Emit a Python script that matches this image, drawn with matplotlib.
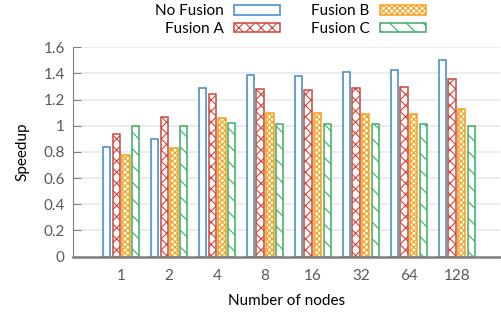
import numpy as np
import matplotlib.pyplot as plt

plt.rcParams['font.family'] = ['Lato', 'DejaVu Sans']
plt.rcParams['hatch.linewidth'] = 0.8

# ---------- data ----------
nodes = ["1", "2", "4", "8", "16", "32", "64", "128"]
no_fusion = [0.84, 0.90, 1.29, 1.39, 1.38, 1.41, 1.43, 1.50]
fusion_a = [0.94, 1.07, 1.24, 1.28, 1.27, 1.29, 1.30, 1.36]
fusion_b = [0.78, 0.83, 1.06, 1.10, 1.10, 1.09, 1.09, 1.13]
fusion_c = [1.00, 1.00, 1.02, 1.01, 1.01, 1.01, 1.01, 1.00]

series = [
    ("No Fusion", no_fusion, "#3a88c8", ""),
    ("Fusion A", fusion_a, "#d0463b", "xxx"),
    ("Fusion B", fusion_b, "#f5a11c", "xxxxxx"),
    ("Fusion C", fusion_c, "#3bae66", "\\\\"),
]

BAR_W = 0.155
STEP = 0.2

fig = plt.figure(figsize=(5.01, 3.13), dpi=100)
ax = fig.add_axes([0.146, 0.18, 0.852, 0.669])

x = np.arange(len(nodes))
for i, (label, vals, col, hatch) in enumerate(series):
    off = (i - 1.5) * STEP
    ax.bar(x + off, vals, width=BAR_W, facecolor="white", edgecolor=col,
           hatch=hatch, linewidth=1.1, label=label, zorder=3)

ax.set_xlim(-1.0, 7.9)
ax.set_ylim(0, 1.6)
ax.set_yticks(np.arange(0, 1.61, 0.2))
ax.set_yticklabels(["0", "0.2", "0.4", "0.6", "0.8", "1", "1.2", "1.4", "1.6"])
ax.set_xticks(x)
ax.set_xticklabels(nodes)
ax.tick_params(axis="x", length=0, pad=9, labelsize=11, labelcolor="#595959")
ax.tick_params(axis="y", direction="in", length=6, width=0.8, color="#808080",
               pad=6, labelsize=11, labelcolor="#595959")
ax.grid(axis="y", color="#ebebeb", linewidth=1.3, zorder=0)

for s in ["top", "right"]:
    ax.spines[s].set_visible(False)
ax.spines["left"].set_color("#808080")
ax.spines["left"].set_linewidth(0.8)
ax.spines["bottom"].set_color("#7f7f7f")
ax.spines["bottom"].set_linewidth(1.8)
ax.spines["bottom"].set_zorder(4)

ax.set_ylabel("Speedup", fontsize=11, labelpad=10)
ax.set_xlabel("Number of nodes", fontsize=11, labelpad=8)

fig.legend(loc="center", bbox_to_anchor=(0.58, 0.935), ncol=2, frameon=False,
           markerfirst=False, fontsize=11, handlelength=3.0, handleheight=0.55,
           columnspacing=2.0, handletextpad=0.7, labelspacing=0.25)

fig.savefig("out.png", dpi=100)
